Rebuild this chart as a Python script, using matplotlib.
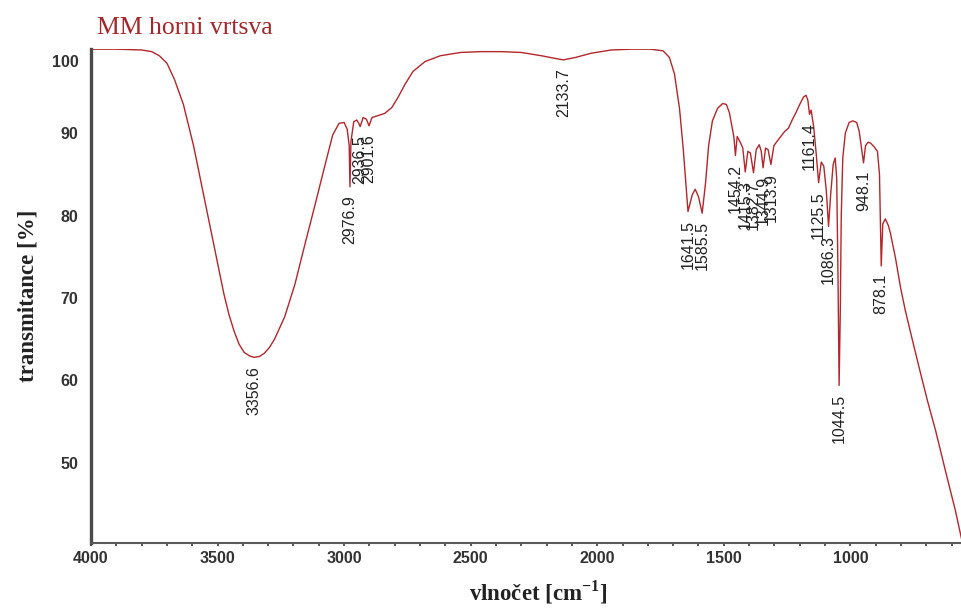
import numpy as np
import matplotlib
matplotlib.use("Agg")
import matplotlib.pyplot as plt
from matplotlib.transforms import ScaledTranslation

# ---- spectrum, read in segments (wavenumber in cm^-1, transmittance in %) ----
wn_oh = [4000, 3900, 3800, 3760, 3730, 3700, 3670, 3635, 3595, 3555, 3515, 3475,
         3455, 3435, 3415, 3395, 3375, 3356.6, 3335, 3315, 3295, 3275, 3235, 3195,
         3155, 3115, 3075, 3045, 3020]
t_oh = [100.2, 100.2, 100.1, 99.9, 99.4, 98.5, 96.5, 93.5, 88.5, 82.5, 76.5, 70.5,
        68.0, 66.0, 64.4, 63.4, 63.0, 62.8, 62.9, 63.3, 64.0, 65.0, 67.7, 71.6,
        76.5, 81.3, 86.2, 89.8, 91.2]

wn_ch = [3000, 2988, 2980, 2976.9, 2973, 2962, 2950, 2942, 2936.5, 2925, 2912,
         2901.6, 2890, 2870, 2840, 2812, 2788, 2760, 2728, 2680, 2620]
t_ch = [91.3, 90.5, 88.5, 83.5, 89.0, 91.4, 91.6, 91.2, 90.8, 91.9, 91.7,
        90.9, 91.9, 92.1, 92.4, 93.1, 94.3, 95.9, 97.5, 98.7, 99.4]

wn_mid = [2540, 2460, 2380, 2300, 2220, 2170, 2133.7, 2085, 2025, 1945, 1865,
          1790, 1740, 1715, 1695, 1675, 1660, 1650]
t_mid = [99.8, 99.9, 99.9, 99.8, 99.4, 99.1, 98.9, 99.2, 99.7, 100.1, 100.2,
         100.2, 100.0, 99.2, 97.2, 93.0, 88.0, 84.0]

wn_co = [1641.5, 1625, 1613, 1600, 1585.5, 1572, 1560, 1545, 1525, 1505, 1490,
         1478, 1468, 1460, 1454.2, 1447, 1435, 1425, 1415.3, 1405, 1395, 1382.7,
         1372, 1360, 1352, 1344.9, 1335, 1325, 1313.9, 1302, 1290, 1275, 1260,
         1245, 1230, 1215, 1200, 1185]
t_co = [80.5, 82.5, 83.2, 82.3, 80.3, 84.0, 88.5, 91.5, 93.0, 93.6, 93.5,
        92.5, 90.8, 89.5, 87.3, 89.6, 88.9, 88.2, 85.3, 87.8, 87.6, 85.2,
        88.0, 88.6, 87.8, 85.8, 88.2, 88.0, 86.2, 88.5, 89.0, 89.6, 90.2,
        90.6, 91.6, 92.5, 93.5, 94.4]

wn_fp = [1175, 1168, 1161.4, 1155, 1145, 1135, 1125.5, 1115, 1105, 1095, 1086.3,
         1078, 1068, 1060, 1054, 1049, 1044.5, 1040, 1036, 1030, 1020, 1005, 990,
         975, 965, 955, 948.1, 940, 930, 920, 905, 893, 885, 878.1, 872, 862, 850,
         842, 822, 802, 783, 755, 723, 696, 664, 625, 585, 561]
t_fp = [94.6, 94.0, 92.3, 92.8, 90.8, 87.5, 84.0, 86.5, 86.0, 83.0, 78.7,
        82.5, 86.2, 87.0, 84.5, 73.0, 59.4, 68.0, 80.0, 87.0, 90.0, 91.3, 91.5,
        91.3, 90.2, 88.0, 86.4, 88.5, 88.9, 88.8, 88.3, 87.8, 85.0, 73.9, 79.0, 79.6, 78.8,
        77.9, 74.9, 71.3, 68.5, 64.9, 60.9, 57.6, 54.0, 49.1, 44.2, 40.8]

peak_wn = [3356.6, 2976.9, 2936.5, 2901.6, 2133.7, 1641.5, 1585.5, 1454.2,
           1415.3, 1382.7, 1344.9, 1313.9, 1161.4, 1125.5, 1086.3, 1044.5,
           948.1, 878.1]
peak_labels = [f"{v:.1f}" for v in peak_wn]

y_ticks = [50, 60, 70, 80, 90, 100]
x_ticks = [4000, 3500, 3000, 2500, 2000, 1500, 1000]

title_text = "MM horni vrtsva"
x_label = "vlnočet [cm$^{\\mathregular{-1}}$]"
y_label = "transmitance [%]"

wn = np.array(wn_oh + wn_ch + wn_mid + wn_co + wn_fp)
tr = np.array(t_oh + t_ch + t_mid + t_co + t_fp)

line_color = "#b3262b"
text_dark = "#333333"

fig = plt.figure(figsize=(9.62, 6.10), dpi=100)
fig.patch.set_facecolor("white")
ax = fig.add_axes([91 / 962, 1 - 543 / 610, 871 / 962, 494 / 610])

ax.plot(wn, tr, color=line_color, lw=1.0)
ax.set_xlim(4000, 559)
ax.set_ylim(40.27, 100.22)

for s in ("top", "right"):
    ax.spines[s].set_visible(False)
ax.spines["left"].set_linewidth(2.4)
ax.spines["left"].set_color("#4a4a4a")
ax.spines["bottom"].set_linewidth(1.5)
ax.spines["bottom"].set_color("#5a5a5a")

ax.set_xticks(x_ticks)
ax.set_xticks(np.arange(600, 4000, 100), minor=True)
ax.tick_params(axis="x", which="both", direction="out", length=2, width=1.4,
               color="#555555", pad=4)
ax.set_yticks(y_ticks)
ax.tick_params(axis="y", length=0, pad=9)
for lab in ax.get_xticklabels() + ax.get_yticklabels():
    lab.set_fontfamily("Liberation Sans")
    lab.set_fontweight("bold")
    lab.set_fontsize(11.5)
    lab.set_color(text_dark)
# the top value label sits a little lower than its gridline value
top_lab = ax.get_yticklabels()[-1]
top_lab.set_transform(top_lab.get_transform() +
                      ScaledTranslation(0, -10 / 100, fig.dpi_scale_trans))

# peak annotations, rotated, centred under each band minimum
for w, lab in zip(peak_wn, peak_labels):
    yv = float(np.interp(w, wn[::-1], tr[::-1]))
    ax.annotate(lab, xy=(w, yv), xytext=(0, -6), textcoords="offset points",
                rotation=90, ha="center", va="top", fontsize=11.5,
                family="Liberation Sans", color="#222222")

fig.text(97 / 962, 1 - 28 / 610, title_text, family="Liberation Serif",
         fontsize=18.5, color="#a3282b", ha="left", va="center")
fig.text(538 / 962, 1 - 592 / 610, x_label, family="Liberation Serif",
         fontweight="bold", fontsize=16.5, color="#222222", ha="center", va="center")
fig.text(28 / 962, 1 - 296 / 610, y_label, family="Liberation Serif",
         fontweight="bold", fontsize=16.5, color="#222222", rotation=90,
         ha="center", va="center")

fig.savefig("out.png", dpi=100, facecolor="white")
